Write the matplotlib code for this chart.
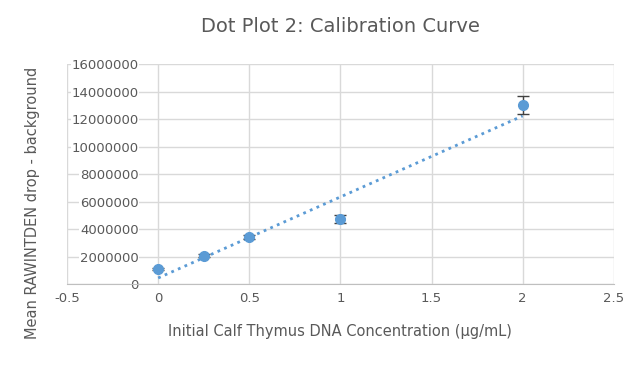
import numpy as np
import matplotlib.pyplot as plt

conc = [0, 0.25, 0.5, 1, 2]
signal = [1090000, 2050000, 3420000, 4730000, 13000000]
err = [80000, 100000, 150000, 300000, 650000]

azul = '#5B9BD5'
gris = '#595959'

fig = plt.figure(figsize=(6.42, 3.84), dpi=100)
ax = fig.add_axes([0.1044, 0.2604, 0.8516, 0.5729])

# linea de tendencia (ajuste lineal)
m, b = np.polyfit(conc, signal, 1)
xs = np.array([0, 2])
ax.plot(xs, m * xs + b, linestyle=(0, (1, 1.6)), color=azul, linewidth=2, zorder=2)

ax.errorbar(conc, signal, yerr=err, fmt='o', color=azul, markersize=7,
            ecolor='#404040', elinewidth=1, capsize=4, capthick=1, zorder=3)

ax.set_xlim(-0.5, 2.5)
ax.set_ylim(0, 16000000)
ax.set_xticks(np.arange(-0.5, 2.51, 0.5))
ax.set_xticklabels(['-0.5', '0', '0.5', '1', '1.5', '2', '2.5'])
ax.set_yticks(np.arange(0, 16000001, 2000000))
ax.set_yticklabels([str(v) for v in range(0, 16000001, 2000000)])

ax.grid(True, color='#D9D9D9', linewidth=1)
ax.set_axisbelow(True)
for s in ['top', 'right']:
    ax.spines[s].set_visible(False)
# eje y cruza en x = 0, como en Excel
ax.spines['left'].set_position(('data', 0))
ax.spines['left'].set_visible(False)
ax.spines['bottom'].set_color('#BFBFBF')
ax.tick_params(length=0, colors=gris, labelsize=9.5)
ax.tick_params(axis='y', pad=14)
ax.tick_params(axis='x', pad=6)
for t in ax.get_yticklabels():
    t.set_bbox(dict(facecolor='white', edgecolor='none', pad=0.5))

ax.set_title('Dot Plot 2: Calibration Curve', fontsize=14, color=gris, pad=23)
ax.set_xlabel('Initial Calf Thymus DNA Concentration (µg/mL)', fontsize=10.5, color=gris)
ax.set_ylabel('Mean RAWINTDEN drop - background', fontsize=10.5, color=gris)
ax.xaxis.set_label_coords(0.5, -0.18)
ax.yaxis.set_label_coords(-0.05, 0.37)

fig.savefig('out.png')
